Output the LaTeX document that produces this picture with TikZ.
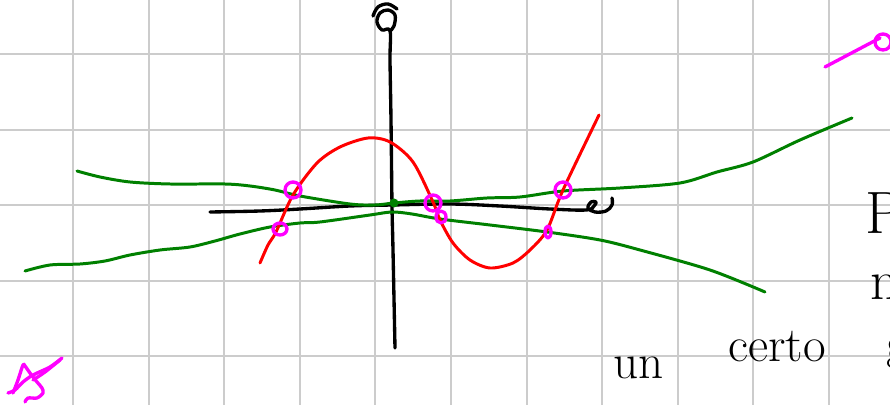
\documentclass[tikz,border=0pt]{standalone}
\usepackage{tikz}
\usetikzlibrary{arrows.meta,positioning,calc}
\definecolor{penpink}{RGB}{255,0,255}
\definecolor{pengreen}{RGB}{0,128,0}

\begin{document}
\begin{tikzpicture}[x=0.02cm, y=-0.02cm,
    gridline/.style={line width=1.1pt, gray!40},
    axis/.style={line width=1.9pt, black, line cap=round, line join=round},
    cubic/.style={line width=1.7pt, red, line cap=round},
    fibre/.style={line width=1.7pt, pengreen, line cap=round},
    scribble/.style={line width=1.9pt, penpink, line cap=round, line join=round},
    hand/.style={font=\fontsize{28}{30}\selectfont, inner sep=0pt}]
\useasboundingbox (0,0) rectangle (890,405);
\clip (0,0) rectangle (890,405);
\fill[white] (0,0) rectangle (890,405);

% Grid
\foreach \i in {0,...,10} {
    \draw[gridline] ({73+75.6*\i},0) -- ({73+75.6*\i},405);
}
\foreach \j in {0,...,4} {
    \draw[gridline] (0,{54+75.6*\j}) -- (890,{54+75.6*\j});
}

% Axes
\draw[axis] plot[smooth, tension=0.6] coordinates {(395,348) (393,250) (392,205) (391,120) (390,60) (390,31) (382,30) (377,22) (380,13) (388,10) (395,15) (394,26) (390,31)};
\draw[axis] plot[smooth, tension=0.6] coordinates {(373,16) (378,7) (388,4) (397,9)};
\draw[axis] plot[smooth, tension=0.6] coordinates {(210,212) (260,211) (300,209) (350,206) (392,205) (450,204) (500,206) (550,209) (586,210) (594,206) (596,202) (591,202) (588,208) (595,212) (606,211) (612,205) (612,198)};

% Green curves
\draw[fibre] plot[smooth, tension=0.5] coordinates {(77,171) (100,177) (130,182) (170,184) (225,184) (250,186) (275,190) (300,196) (350,204) (375,205) (394,203) (420,201) (450,201) (487,198) (520,197) (563,191) (620,188) (680,183) (717,172) (753,162) (800,140) (852,118)};
\draw[fibre] plot[smooth, tension=0.5] coordinates {(25,271) (50,265) (80,264) (105,261) (130,255) (160,250) (190,247) (215,241) (240,234) (270,227) (300,223) (320,222) (370,215) (392,212) (412,214) (440,219) (490,225) (547,232) (600,240) (640,250) (710,270) (765,292)};
\fill[pengreen] (394,203) circle (4.5);

% Red cubic
\draw[cubic] plot[smooth, tension=0.5] coordinates {(260,263) (268,245) (276,232) (293,195) (317,163) (340,147) (368,138) (390,142) (413,162) (433,202) (440,220) (453,243) (470,260) (490,268) (513,263) (530,250) (547,230) (563,190) (599,115)};

% Magenta marks
\foreach \x/\y/\rx/\ry in {293/190/8/8, 280/229/7/6, 433/203/8/8, 441/217/5/6, 563/190/8/8, 548/232/3/6} {
    \draw[scribble] (\x,\y) ellipse [x radius=\rx, y radius=\ry];
}
\draw[scribble] (825,67) -- (880,38);
\draw[scribble] (883,42) circle (8);
\draw[scribble] plot[smooth, tension=0.5] coordinates {(8,393) (15,390) (23,382) (33,375) (50,367) (62,358)};
\draw[scribble] plot[smooth, tension=0.5] coordinates {(33,380) (45,372) (60,360)};
\draw[scribble] plot[smooth, tension=0.5] coordinates {(13,393) (18,380) (23,365) (25,366) (30,373) (37,382) (42,388) (43,393) (37,398) (28,398) (25,402)};

% Handwriting
\node[hand, anchor=base west] (un) at (613,378) {un};
\node[hand, anchor=base west] (certo) at (728,362) {certo};
\node[hand, anchor=base west] (cut) at (886,360) {g};
\node[hand, font=\fontsize{34}{36}\selectfont, anchor=base west] (P) at (865,234) {P};
\node[hand, font=\fontsize{32}{34}\selectfont, anchor=base west] (n) at (870,300) {n};
\end{tikzpicture}
\end{document}
